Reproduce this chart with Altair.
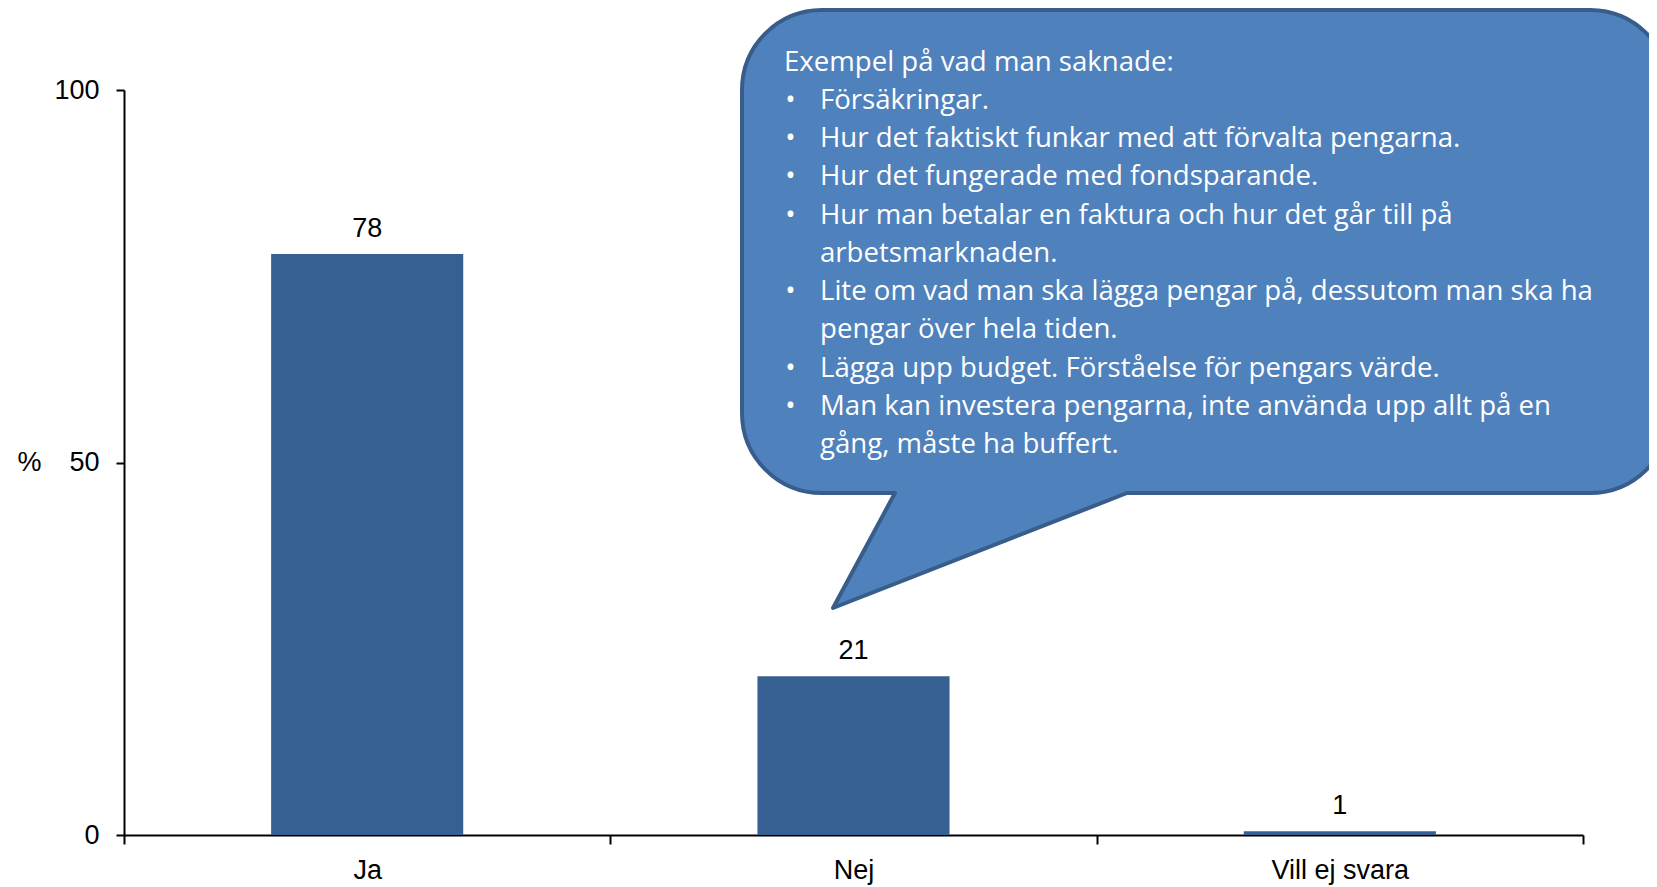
import altair as alt
import pandas as pd

# ---- data ----
categories = ["Ja", "Nej", "Vill ej svara"]
values = [78, 21.3, 0.5]

callout_header = "Exempel på vad man saknade:"
callout_items = [
    ["Försäkringar."],
    ["Hur det faktiskt funkar med att förvalta pengarna."],
    ["Hur det fungerade med fondsparande."],
    ["Hur man betalar en faktura och hur det går till på", "arbetsmarknaden."],
    ["Lite om vad man ska lägga pengar på, dessutom man ska ha", "pengar över hela tiden."],
    ["Lägga upp budget. Förståelse för pengars värde."],
    ["Man kan investera pengarna, inte använda upp allt på en", "gång, måste ha buffert."],
]

df = pd.DataFrame({"cat": categories, "val": values})

item_lines, bullet_rows = [], []
for item in callout_items:
    bullet_rows.append(len(item_lines))
    item_lines.extend(item)

W, H = 1459, 745
AX_FONT = "Liberation Sans"
CO_FONT = "Open Sans"
CO_SIZE = 27.6
LINE_H = 38.25
Y0 = -19.3  # baseline of header line (plot px)

x_enc = alt.X(
    "cat:N",
    sort=categories,
    scale=alt.Scale(paddingInner=0, paddingOuter=0),
    axis=alt.Axis(
        title=None, labelAngle=0, tickBand="extent", domainColor="black",
        domainWidth=2, tickColor="black", tickWidth=2, tickSize=9,
        labelFont=AX_FONT, labelFontSize=27, labelColor="black",
        labelPadding=13, grid=False,
    ),
)
y_enc = alt.Y(
    "val:Q",
    scale=alt.Scale(domain=[0, 100], nice=False),
    axis=alt.Axis(
        values=[0, 50, 100], title="%", titleAngle=0, titleX=-95, titleY=372,
        titleAlign="center", titleBaseline="middle", titleFont=AX_FONT,
        titleFontSize=27, titleFontWeight="normal", titleColor="black",
        domainColor="black", domainWidth=2, tickColor="black", tickWidth=2,
        tickSize=8, labelFont=AX_FONT, labelFontSize=27, labelColor="black",
        labelPadding=17, grid=False,
    ),
)

bars = alt.Chart(df).mark_bar(
    color="#376092", width=alt.RelativeBandSize(0.395)
).encode(x=x_enc, y=y_enc)

labels = alt.Chart(df).mark_text(
    font=AX_FONT, fontSize=27, color="black", baseline="alphabetic", dy=-17
).encode(x=alt.X("cat:N", sort=categories), y="val:Q", text=alt.Text("val:Q", format=".0f"))

one = pd.DataFrame({"k": [0]})

callout_path = (
    "M 698 -80 H 1466 A 80 80 0 0 1 1546 0 V 323 A 80 80 0 0 1 1466 403 "
    "H 1003 L 709 518 L 771 403 H 698 A 80 80 0 0 1 618 323 V 0 "
    "A 80 80 0 0 1 698 -80 Z"
)
bubble = alt.Chart(one).mark_point(
    shape=callout_path, size=4, filled=True, fill="#4F81BD", stroke="#385D8A",
    strokeWidth=4, opacity=1, fillOpacity=1, strokeJoin="round",
).encode(x=alt.value(0), y=alt.value(0))

header = alt.Chart(one).mark_text(
    text=callout_header, align="left", baseline="alphabetic", font=CO_FONT,
    fontSize=CO_SIZE, color="white",
).encode(x=alt.value(660), y=alt.value(Y0))

items = alt.Chart(one).mark_text(
    text=item_lines, align="left", baseline="alphabetic", font=CO_FONT,
    fontSize=CO_SIZE, color="white", lineHeight=LINE_H,
).encode(x=alt.value(696), y=alt.value(Y0 + LINE_H))

bullet_layers = [
    alt.Chart(one).mark_text(
        text="•", align="center", baseline="alphabetic", font=CO_FONT,
        fontSize=CO_SIZE, color="white",
    ).encode(x=alt.value(666.5), y=alt.value(Y0 + LINE_H * (1 + r)))
    for r in bullet_rows
]

chart = alt.layer(bars, labels, bubble, header, items, *bullet_layers).properties(
    width=W, height=H,
    autosize=alt.AutoSizeParams(type="none"),
    padding={"left": 116, "top": 82, "right": 66, "bottom": 52},
).configure_view(stroke=None)

chart.save("out.html", embed_options={"renderer": "svg", "actions": False})
